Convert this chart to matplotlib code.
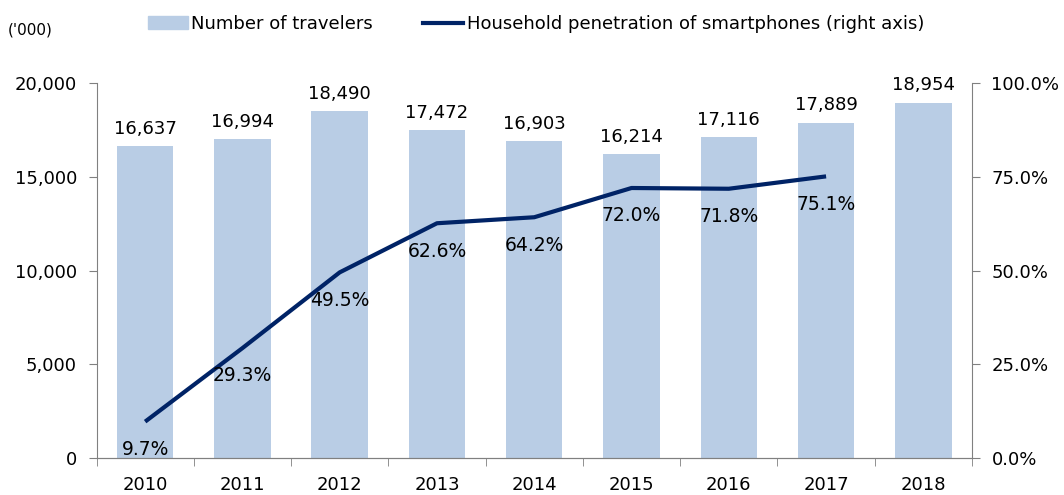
import matplotlib
matplotlib.use("Agg")
import matplotlib.pyplot as plt
from matplotlib.ticker import FuncFormatter, FixedLocator
from matplotlib.lines import Line2D
from matplotlib.patches import Patch

years = ["2010", "2011", "2012", "2013", "2014", "2015", "2016", "2017", "2018"]
travelers = [16637, 16994, 18490, 17472, 16903, 16214, 17116, 17889, 18954]
pen_years = ["2010", "2011", "2012", "2013", "2014", "2015", "2016", "2017"]
penetration = [9.7, 29.3, 49.5, 62.6, 64.2, 72.0, 71.8, 75.1]

plt.rcParams['font.family'] = ['DejaVu Sans']
FS = 13

bar_color = "#B9CDE5"
line_color = "#002366"
spine_color = "#808080"

fig = plt.figure(figsize=(10.64, 4.95), dpi=100)
ax = fig.add_axes([96.5/1064, 1 - 458/495, (972 - 96.5)/1064, (458 - 83)/495])
ax2 = ax.twinx()

x = list(range(len(years)))
ax.bar(x, travelers, width=0.58, color=bar_color, zorder=1)
ax.set_xlim(-0.5, len(years) - 0.5)
ax.set_ylim(0, 20000)
ax.set_yticks([0, 5000, 10000, 15000, 20000])
ax.yaxis.set_major_formatter(FuncFormatter(lambda v, p: f"{int(v):,}"))
ax.set_xticks(x)
ax.set_xticklabels(years)
ax.xaxis.set_minor_locator(FixedLocator([i - 0.5 for i in range(len(years) + 1)]))
ax.tick_params(axis='x', which='major', length=0, pad=13, labelsize=FS)
ax.tick_params(axis='x', which='minor', length=6, color=spine_color, direction='out')
ax.tick_params(axis='y', length=6, color=spine_color, labelsize=FS, pad=8)

for xi, v in zip(x, travelers):
    ax.annotate(f"{v:,}", (xi, v), xytext=(0, 6), textcoords='offset points',
                ha='center', va='bottom', fontsize=FS)

px = [years.index(y) for y in pen_years]
ax2.plot(px, penetration, color=line_color, lw=3, solid_capstyle='butt', zorder=3)
ax2.set_ylim(0, 100)
ax2.set_yticks([0, 25, 50, 75, 100])
ax2.yaxis.set_major_formatter(FuncFormatter(lambda v, p: f"{v:.1f}%"))
ax2.tick_params(axis='y', length=6, color=spine_color, labelsize=FS, pad=8)
for xi, v in zip(px, penetration):
    ax2.annotate(f"{v:.1f}%", (xi, v), xytext=(0, -20), textcoords='offset points',
                 ha='center', va='center', fontsize=13.5)

for a in (ax, ax2):
    a.spines['top'].set_visible(False)
    for s in ('left', 'right', 'bottom'):
        a.spines[s].set_color(spine_color)
ax2.spines['left'].set_visible(False)
ax.spines['right'].set_visible(False)

fig.text(8/1064, 1 - 30/495, "('000)", fontsize=11, ha='left', va='center')

handles = [Patch(color=bar_color), Line2D([0], [0], color=line_color, lw=3)]
labels = ["Number of travelers", "Household penetration of smartphones (right axis)"]
fig.legend(handles, labels, loc='center', bbox_to_anchor=(536/1064, 1 - 24/495), ncol=2,
           frameon=False, fontsize=FS, handlelength=2.2, handletextpad=0.2, columnspacing=2.8)

fig.savefig("out.png", dpi=100)
